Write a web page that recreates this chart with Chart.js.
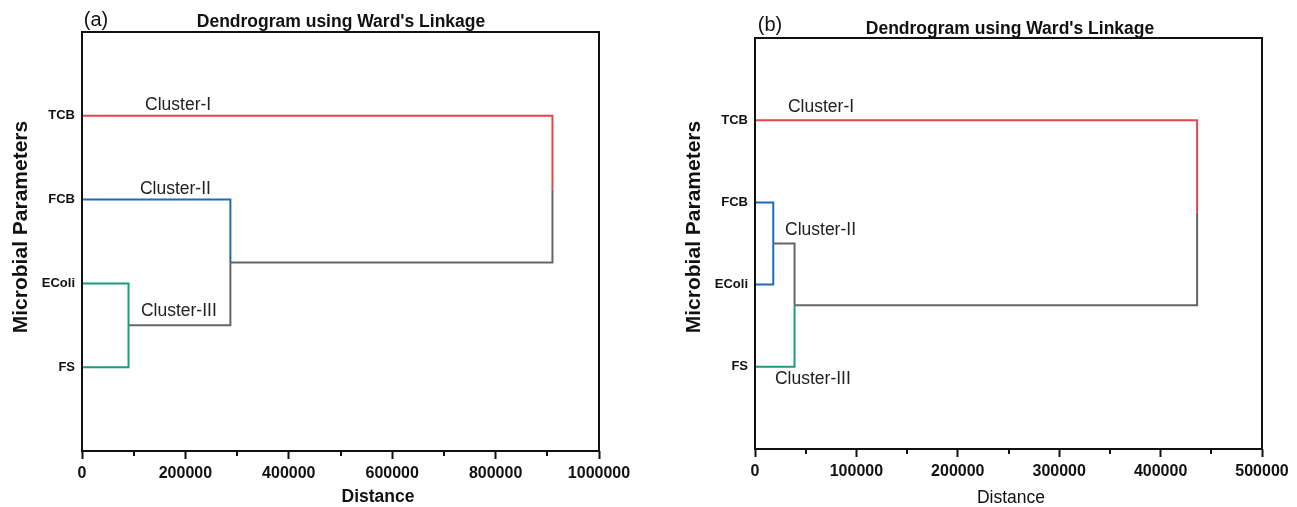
<!DOCTYPE html>
<html>
<head>
<meta charset="utf-8">
<title>Dendrogram using Ward's Linkage</title>
<script src="https://cdn.jsdelivr.net/npm/chart.js@4.4.1/dist/chart.umd.min.js"></script>
<style>
  body { margin: 0; background: #fff; }
  .panel { position: absolute; top: 0; height: 507px; }
  #panel-a { left: 0; width: 640px; }
  #panel-b { left: 640px; width: 657px; }
</style>
</head>
<body>
<div class="panel" id="panel-a"><canvas id="chart-a"></canvas></div>
<div class="panel" id="panel-b"><canvas id="chart-b"></canvas></div>
<script>
// leaves, listed top to bottom, and the row each one sits on
const leafNames = ['TCB', 'FCB', 'EColi', 'FS'];
const leafRows = [4, 3, 2, 1];

// merges: [node, node, distance]; nodes 0-3 are the leaves, 4+ are merges in order
const mergesA = [[2, 3, 90000], [1, 4, 287000], [0, 5, 910000]];
const clustersA = ['Cluster-I', 'Cluster-II', 'Cluster-III', 'Cluster-III'];
const xTicksA = [0, 200000, 400000, 600000, 800000, 1000000];

const mergesB = [[1, 2, 18000], [4, 3, 39000], [0, 5, 436000]];
const clustersB = ['Cluster-I', 'Cluster-II', 'Cluster-II', 'Cluster-III'];
const xTicksB = [0, 100000, 200000, 300000, 400000, 500000];

const clusterColors = { 'Cluster-I': '#e2454e', 'Cluster-II': '#1d6db4', 'Cluster-III': '#16a07a' };
const GRAY = '#666666';
const FONT = "'Liberation Sans', Arial, Helvetica, sans-serif";

// every merge draws two half links: child -> merge distance -> middle of the merge
function linkDatasets(merges, clusters) {
  const nodeRow = leafRows.slice();
  const nodeDist = leafRows.map(() => 0);
  const sets = [];
  merges.forEach(([a, b, d]) => {
    const row = (nodeRow[a] + nodeRow[b]) / 2;
    [a, b].forEach(c => {
      sets.push({
        data: [{ x: nodeDist[c], y: nodeRow[c] }, { x: d, y: nodeRow[c] }, { x: d, y: row }],
        borderColor: c < leafNames.length ? clusterColors[clusters[c]] : GRAY,
        borderWidth: 2,
        pointRadius: 0,
        tension: 0,
        fill: false,
        borderJoinStyle: 'miter',
      });
    });
    nodeRow.push(row);
    nodeDist.push(d);
  });
  return sets;
}

const decor = {
  id: 'decor',
  afterDraw(chart, args, o) {
    const { ctx, chartArea: a, scales: { x, y } } = chart;
    ctx.save();
    ctx.strokeStyle = '#111';
    ctx.lineWidth = 2;
    // minor ticks half way between the labelled ones
    for (let i = 0; i < o.xTicks.length - 1; i++) {
      const px = Math.round(x.getPixelForValue((o.xTicks[i] + o.xTicks[i + 1]) / 2));
      ctx.beginPath();
      ctx.moveTo(px, a.bottom);
      ctx.lineTo(px, a.bottom + 5);
      ctx.stroke();
    }
    ctx.strokeRect(a.left, a.top, a.right - a.left, a.bottom - a.top);

    ctx.fillStyle = '#111';
    ctx.textBaseline = 'middle';
    ctx.textAlign = 'center';
    ctx.font = `20px ${FONT}`;
    ctx.fillText(o.letter, o.letterAt[0], o.letterAt[1]);
    ctx.font = `bold 17.5px ${FONT}`;
    ctx.fillText("Dendrogram using Ward's Linkage", o.titleAt[0], o.titleAt[1]);
    ctx.font = `${o.xTitleWeight} 17.5px ${FONT}`;
    ctx.fillText('Distance', o.xTitleAt[0], o.xTitleAt[1]);

    ctx.save();
    ctx.translate(o.yTitleAt[0], o.yTitleAt[1]);
    ctx.rotate(-Math.PI / 2);
    ctx.font = `bold 21px ${FONT}`;
    ctx.fillText('Microbial Parameters', 0, 0);
    ctx.restore();

    ctx.textAlign = 'left';
    ctx.font = `17.5px ${FONT}`;
    ctx.fillStyle = '#222';
    o.labels.forEach(([text, vx, vy]) => {
      ctx.fillText(text, x.getPixelForValue(vx), y.getPixelForValue(vy));
    });
    ctx.restore();
  }
};

function makeChart(id, merges, clusters, xTicks, box, deco) {
  return new Chart(document.getElementById(id), {
    type: 'line',
    data: { datasets: linkDatasets(merges, clusters) },
    plugins: [decor],
    options: {
      responsive: true,
      maintainAspectRatio: false,
      animation: false,
      layout: { padding: { left: 0, top: box.top, right: box.right, bottom: 0 } },
      plugins: {
        legend: { display: false },
        tooltip: { enabled: false },
        decor: Object.assign({ xTicks }, deco),
      },
      scales: {
        x: {
          type: 'linear',
          min: xTicks[0],
          max: xTicks[xTicks.length - 1],
          afterBuildTicks: s => { s.ticks = xTicks.map(v => ({ value: v })); },
          afterFit: s => { s.height = box.xHeight; },
          ticks: {
            color: '#111',
            padding: 5,
            maxRotation: 0,
            font: { family: FONT, size: 16, weight: 'bold' },
            callback: v => String(v),
          },
          grid: { drawOnChartArea: false, tickLength: 8, tickWidth: 2, tickColor: '#111' },
          border: { display: false },
        },
        y: {
          type: 'linear',
          min: 0,
          max: 5,
          afterBuildTicks: s => { s.ticks = leafRows.map(v => ({ value: v })); },
          afterFit: s => { s.width = box.yWidth; },
          ticks: {
            color: '#111',
            padding: 7,
            font: { family: FONT, size: 13, weight: 'bold' },
            callback: v => leafNames[leafRows.indexOf(v)],
          },
          grid: { display: false, drawTicks: false },
          border: { display: false },
        },
      },
    },
  });
}

makeChart('chart-a', mergesA, clustersA, xTicksA,
  { top: 32, right: 41, xHeight: 56, yWidth: 82 },
  {
    letter: '(a)', letterAt: [96, 20],
    titleAt: [341, 22],
    xTitleAt: [378, 497], xTitleWeight: 'bold',
    yTitleAt: [21, 227],
    labels: [['Cluster-I', 122000, 4.13], ['Cluster-II', 112000, 3.13], ['Cluster-III', 114000, 1.67]],
  });

makeChart('chart-b', mergesB, clustersB, xTicksB,
  { top: 38, right: 35, xHeight: 58, yWidth: 115 },
  {
    letter: '(b)', letterAt: [130, 25],
    titleAt: [370, 29],
    xTitleAt: [371, 498], xTitleWeight: 'normal',
    yTitleAt: [54, 227],
    labels: [['Cluster-I', 32500, 4.16], ['Cluster-II', 29600, 2.66], ['Cluster-III', 19700, 0.85]],
  });
</script>
</body>
</html>
